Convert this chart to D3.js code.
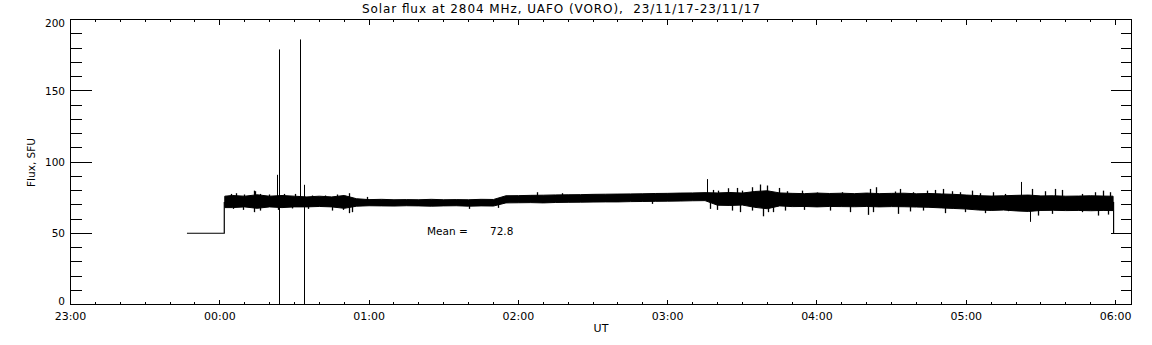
<!DOCTYPE html>
<html>
<head>
<meta charset="utf-8">
<script src="https://cdn.jsdelivr.net/npm/d3@7"></script>
<style>
  body { margin: 0; background: #fff; }
  svg { display: block; }
  text { font-family: "DejaVu Sans", sans-serif; fill: #000; white-space: pre; }
</style>
</head>
<body>
<div id="container"></div>
<script>
/* CONSTANTS AND GLOBALS */
const width = 1152;
const height = 345;

/* DATA (minutes from 00:00 UT, flux in SFU) */
const hourTicks = [-60, 0, 60, 120, 180, 240, 300, 360];
const hourLabels = ["23:00", "00:00", "01:00", "02:00", "03:00", "04:00", "05:00", "06:00"];
const fluxTicks = [0, 50, 100, 150, 200];

// flat part before the receiver switched on, then the step up
const leadTime = [-13.2, 1.8, 1.8];
const leadFlux = [50, 50, 72];

// solid core of the noisy record, read every 5 minutes
const bandTime = [2, 5, 10, 15, 20, 25, 30, 35, 40, 45, 50, 55, 60, 65, 70, 75, 80, 85, 90, 95,
  100, 105, 110, 115, 120, 125, 130, 135, 140, 145, 150, 155, 160, 165, 170, 175, 180, 185, 190, 195,
  200, 205, 210, 215, 220, 225, 230, 235, 240, 245, 250, 255, 260, 265, 270, 275, 280, 285, 290, 295,
  300, 305, 310, 315, 320, 325, 330, 335, 340, 345, 350, 355, 359];
const bandUpper = [76, 76.5, 76, 77, 76, 76.5, 76, 75.5, 76, 75.5, 76.5, 74.2, 73.6, 73.8, 73.5, 73.6, 73.5, 73.8, 73.5, 73.6,
  73.5, 73.8, 73.7, 76.3, 76.4, 76.6, 76.7, 76.9, 77.0, 77.1, 77.3, 77.4, 77.5, 77.6, 77.7, 77.9, 78.0, 78.2, 78.3, 78.5,
  78.3, 78.6, 78.2, 79.3, 79.8, 78.3, 78.0, 77.8, 78.2, 77.9, 78.1, 77.8, 78.2, 77.8, 78.0, 78.1, 77.7, 77.9, 77.6, 77.3,
  76.8, 76.4, 76.1, 76.3, 76.6, 76.8, 76.2, 76.3, 76.0, 76.1, 76.3, 76.1, 76.0];
const bandLower = [68, 68, 68.5, 67.5, 68.5, 68, 68.5, 68.5, 68.8, 68.5, 67.5, 69, 69.3, 69.2, 69.1, 69.3, 69.2, 69.0, 69.2, 69.3,
  69.0, 69.2, 69.1, 71.3, 71.4, 71.5, 71.3, 71.6, 71.7, 71.8, 71.9, 72.0, 72.0, 72.2, 72.3, 72.4, 72.5, 72.6, 72.8, 72.9,
  69.7, 69.5, 69.8, 68.2, 67.2, 69.2, 68.7, 68.8, 68.5, 68.8, 68.7, 68.6, 68.8, 68.5, 68.7, 68.6, 68.4, 68.2, 67.8, 67.4,
  67.0, 66.3, 66.0, 66.3, 65.7, 65.3, 66.0, 66.1, 65.9, 66.0, 65.8, 66.0, 65.9];

// thin excursions out of the core
const upTime = [4.7, 6.6, 9.6, 13.7, 14.3, 16.3, 19.7, 25.7, 30.4, 37.1, 42.4, 47.1, 51.8, 59.2,
  127.5, 137.5, 198.4, 200.4, 204.4, 207.8, 209.8, 213.8, 217.1, 219.8,
  224.9, 227.9, 233.9, 239.9, 246.6, 249.9, 261.3, 263.9, 271.4, 273.4, 278.7, 284.1, 287.4, 290.8, 294.1,
  297.5, 302.2, 305.5, 310.9, 315.6, 326.3, 331.7, 335.7, 338.4, 346.4, 351.8, 355.1, 357.8];
const upFlux = [77.6, 78.1, 77.2, 79.9, 79.5, 77.6, 77.2, 77.6, 77.6, 76.5, 76.5, 77.2, 78.1, 75.5,
  78.8, 78.1, 80.4, 79.9, 81.6, 81.8, 79.9, 82.3, 84.2, 83.5,
  81.8, 79.5, 79.9, 78.6, 77.6, 78.8, 81.1, 82.3, 79.3, 81.1, 78.8, 79.9, 80.4, 81.1, 79.5,
  78.8, 79.9, 78.1, 78.8, 77.6, 81.1, 79.5, 81.1, 80.4, 77.6, 78.8, 79.9, 78.8];
const downTime = [5.5, 9.2, 13.7, 16.3, 23.5, 29.2, 35.6, 45.0, 49.5, 51.8, 53.1,
  100, 112, 173.6, 197, 199.7, 205.7, 209, 213.8, 218.5, 220.5,
  222.5, 227.2, 234.6, 245.3, 253.3, 260.6, 262.7, 272.7, 277.4, 282.7, 291.5,
  299.5, 307.5, 316.9, 329, 334.3, 346.4, 353.1, 357.1];
const downFlux = [67.1, 66.4, 64.8, 65.9, 66.4, 67.4, 67.1, 65.9, 66.4, 64.1, 64.8,
  67.1, 67.8, 70.6, 67.1, 66.4, 65.9, 64.8, 65.9, 61.9, 64.8,
  64.8, 65.9, 66.4, 65.9, 64.8, 62.9, 64.8, 63.6, 65.3, 65.9, 64.1,
  64.8, 64.1, 65.5, 62.4, 63.6, 64.8, 62.4, 63.1];

// drop at the end of the record
const tailTime = [359.2, 359.2];
const tailFlux = [72, 50];

// isolated spikes (vertical strokes)
const spikeTime = [23.0, 23.7, 32.1, 33.7, 195.7, 322, 325.6];
const spikeLow = [70, 0, 72, 0, 73, 70, 58];
const spikeHigh = [91, 179, 186, 84, 88, 86, 72];

const meanFlux = 72.8;

/* SVG */
const svg = d3.select("#container")
  .append("svg")
  .attr("width", width)
  .attr("height", height)
  .style("background-color", "#fff");

const plotLeft = 70.5, plotRight = 1131.5, plotTop = 19.5, plotBottom = 304.5;

/* SCALES */
const xScale = d3.scaleLinear()
  .domain([-60, 366.4])
  .range([plotLeft, plotRight]);

const yScale = d3.scaleLinear()
  .domain([0, 200])
  .range([plotBottom, plotTop]);

// middle of the core at time t, for anchoring the thin excursions
const midScale = d3.scaleLinear()
  .domain(bandTime)
  .range(bandTime.map((t, i) => (bandUpper[i] + bandLower[i]) / 2));

/* DATA MARKS */
const lineGen = d3.line()
  .x(d => xScale(d[0]))
  .y(d => yScale(d[1]));

const areaGen = d3.area()
  .x(d => xScale(d.t))
  .y0(d => yScale(d.lo))
  .y1(d => yScale(d.hi));

const band = bandTime.map((t, i) => ({ t: t, hi: bandUpper[i], lo: bandLower[i] }));

svg.append("path")
  .datum(band)
  .attr("d", areaGen)
  .attr("fill", "#000")
  .attr("stroke", "#000")
  .attr("stroke-width", 1);

const px = t => Math.round(xScale(t)) + 0.5;

svg.selectAll(".up")
  .data(upTime)
  .join("line")
  .attr("class", "up")
  .attr("x1", d => px(d))
  .attr("x2", d => px(d))
  .attr("y1", d => yScale(midScale(d)))
  .attr("y2", (d, i) => yScale(upFlux[i]))
  .attr("stroke", "#000")
  .attr("stroke-width", 1.3);

svg.selectAll(".down")
  .data(downTime)
  .join("line")
  .attr("class", "down")
  .attr("x1", d => px(d))
  .attr("x2", d => px(d))
  .attr("y1", d => yScale(midScale(d)))
  .attr("y2", (d, i) => yScale(downFlux[i]))
  .attr("stroke", "#000")
  .attr("stroke-width", 1.3);

svg.append("path")
  .datum(leadTime.map((t, i) => [t, leadFlux[i]]))
  .attr("d", lineGen)
  .attr("fill", "none")
  .attr("stroke", "#000")
  .attr("stroke-width", 1.2);

svg.append("path")
  .datum(tailTime.map((t, i) => [t, tailFlux[i]]))
  .attr("d", lineGen)
  .attr("fill", "none")
  .attr("stroke", "#000")
  .attr("stroke-width", 1.2);

svg.selectAll(".spike")
  .data(spikeTime)
  .join("line")
  .attr("class", "spike")
  .attr("x1", d => px(d))
  .attr("x2", d => px(d))
  .attr("y1", (d, i) => yScale(spikeLow[i]))
  .attr("y2", (d, i) => yScale(spikeHigh[i]))
  .attr("stroke", "#000")
  .attr("stroke-width", 1);

/* AXES */
const minorY = d3.range(0, 201, 10);
const minorX = d3.range(-60, 367, 10);

function tickAxis(axis, transform) {
  const g = svg.append("g")
    .attr("transform", transform)
    .style("shape-rendering", "crispEdges")
    .call(axis.offset(0));
  g.select(".domain").remove();
  g.selectAll("text").remove();
  g.selectAll("line").attr("stroke", "#000");
}

// left / right
tickAxis(d3.axisRight(yScale).tickValues(fluxTicks).tickSize(21), `translate(${plotLeft},0)`);
tickAxis(d3.axisRight(yScale).tickValues(minorY).tickSize(11), `translate(${plotLeft},0)`);
tickAxis(d3.axisLeft(yScale).tickValues(fluxTicks).tickSize(21), `translate(${plotRight},0)`);
tickAxis(d3.axisLeft(yScale).tickValues(minorY).tickSize(11), `translate(${plotRight},0)`);
// bottom / top
tickAxis(d3.axisTop(xScale).tickValues(hourTicks).tickSize(5), `translate(0,${plotBottom})`);
tickAxis(d3.axisTop(xScale).tickValues(minorX).tickSize(2.5), `translate(0,${plotBottom})`);
tickAxis(d3.axisBottom(xScale).tickValues(hourTicks).tickSize(5), `translate(0,${plotTop})`);
tickAxis(d3.axisBottom(xScale).tickValues(minorX).tickSize(2.5), `translate(0,${plotTop})`);

// frame
svg.append("rect")
  .attr("x", plotLeft)
  .attr("y", plotTop)
  .attr("width", plotRight - plotLeft)
  .attr("height", plotBottom - plotTop)
  .attr("fill", "none")
  .attr("stroke", "#000")
  .style("shape-rendering", "crispEdges");

// y labels
svg.selectAll(".ylab")
  .data(fluxTicks)
  .join("text")
  .attr("class", "ylab")
  .attr("x", 65)
  .attr("y", d => yScale(d))
  .attr("dy", d => d === 200 ? "0.72em" : d === 0 ? "0.02em" : "0.36em")
  .attr("text-anchor", "end")
  .style("font-size", "10.5px")
  .text(d => d);

// x labels
svg.selectAll(".xlab")
  .data(hourTicks)
  .join("text")
  .attr("class", "xlab")
  .attr("x", d => xScale(d))
  .attr("y", 320)
  .attr("text-anchor", "middle")
  .style("font-size", "11px")
  .text((d, i) => hourLabels[i]);

/* TITLES */
svg.append("text")
  .attr("x", 561)
  .attr("y", 13.3)
  .attr("text-anchor", "middle")
  .attr("textLength", 398)
  .attr("lengthAdjust", "spacing")
  .style("font-size", "12px")
  .text("Solar flux at 2804 MHz, UAFO (VORO),  23/11/17-23/11/17");

svg.append("text")
  .attr("x", (plotLeft + plotRight) / 2)
  .attr("y", 331.5)
  .attr("text-anchor", "middle")
  .style("font-size", "11px")
  .text("UT");

svg.append("text")
  .attr("transform", "translate(34.5,162.5) rotate(-90)")
  .attr("text-anchor", "middle")
  .style("font-size", "10.5px")
  .text("Flux, SFU");

svg.append("text")
  .attr("x", 427)
  .attr("y", 235)
  .style("font-size", "10.5px")
  .text("Mean =");

svg.append("text")
  .attr("x", 490)
  .attr("y", 235)
  .style("font-size", "10.5px")
  .text(meanFlux.toFixed(1));
</script>
</body>
</html>
